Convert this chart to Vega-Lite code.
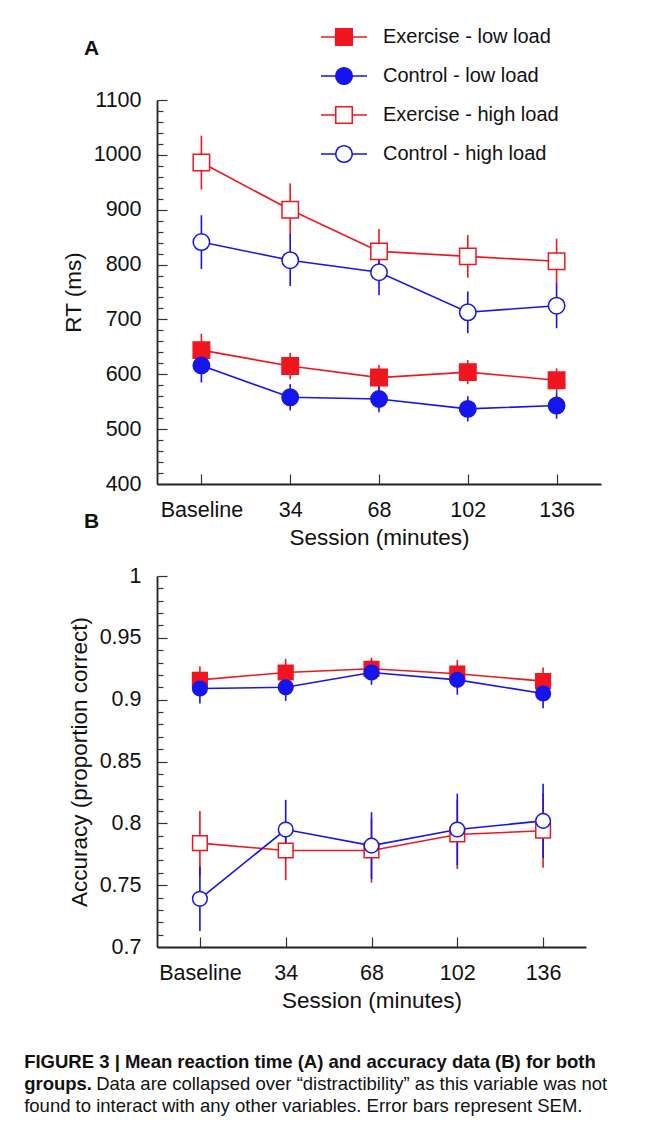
{
  "$schema": "https://vega.github.io/schema/vega-lite/v6.json",
  "background": "white",
  "padding": {"left": 24, "top": 26, "right": 30, "bottom": 12},
  "config": {
    "font": "Liberation Sans",
    "view": {"stroke": null},
    "axis": {
      "grid": false,
      "domainColor": "#222222",
      "domainWidth": 1.8,
      "tickColor": "#333333",
      "tickWidth": 1.2,
      "labelColor": "#111111",
      "titleColor": "#111111",
      "labelFont": "Liberation Sans",
      "titleFont": "Liberation Sans",
      "labelFontSize": 21.5,
      "titleFontSize": 22.5,
      "titleFontWeight": "normal"
    }
  },
  "datasets": {
    "rt": [
      {"g": "Exercise - low load", "session": "Baseline", "mean": 644, "lo": 614, "hi": 674},
      {"g": "Exercise - low load", "session": "34", "mean": 615, "lo": 591, "hi": 639},
      {"g": "Exercise - low load", "session": "68", "mean": 594, "lo": 571, "hi": 617},
      {"g": "Exercise - low load", "session": "102", "mean": 604, "lo": 582, "hi": 626},
      {"g": "Exercise - low load", "session": "136", "mean": 589, "lo": 567, "hi": 611},
      {"g": "Control - low load", "session": "Baseline", "mean": 616, "lo": 585, "hi": 647},
      {"g": "Control - low load", "session": "34", "mean": 558, "lo": 534, "hi": 582},
      {"g": "Control - low load", "session": "68", "mean": 555, "lo": 531, "hi": 579},
      {"g": "Control - low load", "session": "102", "mean": 537, "lo": 514, "hi": 560},
      {"g": "Control - low load", "session": "136", "mean": 543, "lo": 519, "hi": 567},
      {"g": "Exercise - high load", "session": "Baseline", "mean": 986, "lo": 937, "hi": 1035},
      {"g": "Exercise - high load", "session": "34", "mean": 900, "lo": 852, "hi": 948},
      {"g": "Exercise - high load", "session": "68", "mean": 824, "lo": 783, "hi": 865},
      {"g": "Exercise - high load", "session": "102", "mean": 815, "lo": 776, "hi": 854},
      {"g": "Exercise - high load", "session": "136", "mean": 806, "lo": 765, "hi": 847},
      {"g": "Control - high load", "session": "Baseline", "mean": 841, "lo": 792, "hi": 890},
      {"g": "Control - high load", "session": "34", "mean": 808, "lo": 761, "hi": 855},
      {"g": "Control - high load", "session": "68", "mean": 786, "lo": 744, "hi": 828},
      {"g": "Control - high load", "session": "102", "mean": 713, "lo": 675, "hi": 751},
      {"g": "Control - high load", "session": "136", "mean": 725, "lo": 684, "hi": 766}
    ],
    "acc": [
      {"g": "Exercise - low load", "session": "Baseline", "mean": 0.916, "lo": 0.905, "hi": 0.927},
      {"g": "Exercise - low load", "session": "34", "mean": 0.922, "lo": 0.911, "hi": 0.933},
      {"g": "Exercise - low load", "session": "68", "mean": 0.925, "lo": 0.916, "hi": 0.934},
      {"g": "Exercise - low load", "session": "102", "mean": 0.921, "lo": 0.910, "hi": 0.932},
      {"g": "Exercise - low load", "session": "136", "mean": 0.915, "lo": 0.904, "hi": 0.926},
      {"g": "Control - low load", "session": "Baseline", "mean": 0.909, "lo": 0.897, "hi": 0.921},
      {"g": "Control - low load", "session": "34", "mean": 0.910, "lo": 0.899, "hi": 0.921},
      {"g": "Control - low load", "session": "68", "mean": 0.922, "lo": 0.912, "hi": 0.932},
      {"g": "Control - low load", "session": "102", "mean": 0.916, "lo": 0.904, "hi": 0.928},
      {"g": "Control - low load", "session": "136", "mean": 0.905, "lo": 0.893, "hi": 0.917},
      {"g": "Exercise - high load", "session": "Baseline", "mean": 0.784, "lo": 0.758, "hi": 0.810},
      {"g": "Exercise - high load", "session": "34", "mean": 0.778, "lo": 0.754, "hi": 0.802},
      {"g": "Exercise - high load", "session": "68", "mean": 0.778, "lo": 0.752, "hi": 0.804},
      {"g": "Exercise - high load", "session": "102", "mean": 0.791, "lo": 0.763, "hi": 0.819},
      {"g": "Exercise - high load", "session": "136", "mean": 0.794, "lo": 0.764, "hi": 0.824},
      {"g": "Control - high load", "session": "Baseline", "mean": 0.739, "lo": 0.713, "hi": 0.765},
      {"g": "Control - high load", "session": "34", "mean": 0.795, "lo": 0.771, "hi": 0.819},
      {"g": "Control - high load", "session": "68", "mean": 0.782, "lo": 0.755, "hi": 0.809},
      {"g": "Control - high load", "session": "102", "mean": 0.795, "lo": 0.766, "hi": 0.824},
      {"g": "Control - high load", "session": "136", "mean": 0.802, "lo": 0.772, "hi": 0.832}
    ]
  },
  "bounds": "flush",
  "spacing": 92,
  "title": {
    "text": ["FIGURE 3 | Mean reaction time (A) and accuracy data (B) for both", "groups."],
    "subtitle": ["\u200b\u00a0\u00a0\u00a0\u00a0\u00a0\u00a0\u00a0\u00a0\u00a0\u00a0\u00a0\u00a0\u00a0\u00a0Data are collapsed over \u201cdistractibility\u201d as this variable was not", "found to interact with any other variables. Error bars represent SEM."],
    "orient": "bottom",
    "anchor": "start",
    "frame": "bounds",
    "baseline": "top",
    "dx": -38,
    "offset": 41,
    "font": "Liberation Sans",
    "fontSize": 18.5,
    "fontWeight": "bold",
    "lineHeight": 22,
    "color": "#111111",
    "subtitleFont": "Liberation Sans",
    "subtitleFontSize": 18.5,
    "subtitleFontWeight": "normal",
    "subtitleLineHeight": 22,
    "subtitleColor": "#111111",
    "subtitlePadding": -18.5
  },
  "vconcat": [
    {
      "width": 444,
      "height": 384,
      "title": {"text": "A", "anchor": "start", "frame": "group", "dx": -73, "offset": 13, "baseline": "alphabetic", "fontSize": 21, "fontWeight": "bold", "color": "#111111", "font": "Liberation Sans"},
      "data": {"name": "rt"},
      "resolve": {"axis": {"y": "independent"}},
      "layer": [
        {
          "mark": {"type": "rule", "strokeWidth": 1.6},
          "encoding": {
            "x": {"field": "session", "type": "nominal", "sort": ["Baseline", "34", "68", "102", "136"], "scale": {"type": "point", "padding": 0.5},
                  "axis": {"title": "Session (minutes)", "labelAngle": 0, "tickSize": -10, "labelPadding": 25.5, "titlePadding": 5}},
            "y": {"field": "lo", "type": "quantitative", "scale": {"domain": [400, 1100], "nice": false, "zero": false},
                  "axis": {"orient": "left", "title": "RT (ms)", "values": [400, 500, 600, 700, 800, 900, 1000, 1100], "format": "d", "tickSize": -10, "labelPadding": 26, "titlePadding": 8}},
            "y2": {"field": "hi"},
            "color": {"field": "g", "type": "nominal", "scale": {"domain": ["Exercise - low load", "Control - low load", "Exercise - high load", "Control - high load"], "range": ["#f0161f", "#1515ee", "#f0161f", "#1515ee"]}}
          }
        },
        {
          "mark": {"type": "line", "strokeWidth": 1.6, "opacity": 1},
          "encoding": {
            "x": {"field": "session", "type": "nominal", "sort": ["Baseline", "34", "68", "102", "136"]},
            "y": {"field": "mean", "type": "quantitative",
                  "axis": {"orient": "left", "title": null, "labels": false, "domain": false, "tickSize": -6, "values": [420,440,460,480,520,540,560,580,620,640,660,680,720,740,760,780,820,840,860,880,920,940,960,980,1020,1040,1060,1080]}},
            "color": {"field": "g", "type": "nominal",
                      "legend": {
                        "orient": "none", "legendX": 163, "legendY": -74, "title": null, "padding": 0,
                        "symbolSize": 2116, "symbolStrokeWidth": 1.6, "symbolOpacity": 1, "clipHeight": 22, "rowPadding": 17,
                        "labelFontSize": 20, "labelFont": "Liberation Sans", "labelColor": "#111111", "labelOffset": 15, "labelLimit": 0
                      }}
          }
        },
        {
          "transform": [{"filter": "false"}],
          "mark": {"type": "point", "filled": true, "opacity": 1},
          "encoding": {
            "x": {"field": "session", "type": "nominal", "sort": ["Baseline", "34", "68", "102", "136"]},
            "y": {"field": "mean", "type": "quantitative", "axis": null},
            "shape": {"field": "g", "type": "nominal", "scale": {"domain": ["Exercise - low load", "Control - low load", "Exercise - high load", "Control - high load"], "range": ["M-1,0H-0.36M0.36,0H1M-0.36,-0.36H0.36V0.36H-0.36Z", "M-1,0H-0.36M0.36,0H1M-0.36,0A0.36,0.36,0,1,1,0.36,0A0.36,0.36,0,1,1,-0.36,0Z", "M-1,0H-0.36M0.36,0H1M-0.36,-0.36H0.36V0.36H-0.36Z", "M-1,0H-0.36M0.36,0H1M-0.36,0A0.36,0.36,0,1,1,0.36,0A0.36,0.36,0,1,1,-0.36,0Z"]}}
          }
        },
        {
          "transform": [{"filter": "indexof(datum.g, 'Exercise') === 0"}],
          "mark": {"type": "point", "shape": "square", "filled": true, "size": 270, "strokeWidth": 1.5, "opacity": 1},
          "encoding": {
            "x": {"field": "session", "type": "nominal", "sort": ["Baseline", "34", "68", "102", "136"]},
            "y": {"field": "mean", "type": "quantitative", "axis": null},
            "fill": {"field": "g", "type": "nominal", "scale": {"domain": ["Exercise - low load", "Control - low load", "Exercise - high load", "Control - high load"], "range": ["#f0161f", "#1515ee", "white", "white"]}},
            "stroke": {"field": "g", "type": "nominal", "scale": {"domain": ["Exercise - low load", "Control - low load", "Exercise - high load", "Control - high load"], "range": ["#f0161f", "#1515ee", "#f0161f", "#1515ee"]}}
          }
        },
        {
          "transform": [{"filter": "indexof(datum.g, 'Control') === 0"}],
          "mark": {"type": "point", "shape": "circle", "filled": true, "size": 270, "strokeWidth": 1.5, "opacity": 1},
          "encoding": {
            "x": {"field": "session", "type": "nominal", "sort": ["Baseline", "34", "68", "102", "136"]},
            "y": {"field": "mean", "type": "quantitative", "axis": null},
            "fill": {"field": "g", "type": "nominal"},
            "stroke": {"field": "g", "type": "nominal"}
          }
        }
      ]
    },
    {
      "width": 429,
      "height": 371,
      "title": {"text": "B", "anchor": "start", "frame": "group", "dx": -73, "offset": 16, "baseline": "alphabetic", "fontSize": 21, "fontWeight": "bold", "color": "#111111", "font": "Liberation Sans"},
      "data": {"name": "acc"},
      "resolve": {"axis": {"y": "independent"}},
      "layer": [
        {
          "mark": {"type": "rule", "strokeWidth": 1.6},
          "encoding": {
            "x": {"field": "session", "type": "nominal", "sort": ["Baseline", "34", "68", "102", "136"], "scale": {"type": "point", "padding": 0.5},
                  "axis": {"title": "Session (minutes)", "labelAngle": 0, "tickSize": -10, "labelPadding": 25.5, "titlePadding": 5}},
            "y": {"field": "lo", "type": "quantitative", "scale": {"domain": [0.7, 1], "nice": false, "zero": false},
                  "axis": {"orient": "left", "title": "Accuracy (proportion correct)", "values": [0.7, 0.75, 0.8, 0.85, 0.9, 0.95, 1], "format": "~g", "tickSize": -10, "labelPadding": 26, "titlePadding": 8}},
            "y2": {"field": "hi"},
            "color": {"field": "g", "type": "nominal"}
          }
        },
        {
          "mark": {"type": "line", "strokeWidth": 1.6, "opacity": 1},
          "encoding": {
            "x": {"field": "session", "type": "nominal", "sort": ["Baseline", "34", "68", "102", "136"]},
            "y": {"field": "mean", "type": "quantitative",
                  "axis": {"orient": "left", "title": null, "labels": false, "domain": false, "tickSize": -6, "values": [0.71,0.72,0.73,0.74,0.76,0.77,0.78,0.79,0.81,0.82,0.83,0.84,0.86,0.87,0.88,0.89,0.91,0.92,0.93,0.94,0.96,0.97,0.98,0.99]}},
            "color": {"field": "g", "type": "nominal"}
          }
        },
        {
          "transform": [{"filter": "indexof(datum.g, 'Exercise') === 0"}],
          "mark": {"type": "point", "shape": "square", "filled": true, "size": 215, "strokeWidth": 1.5, "opacity": 1},
          "encoding": {
            "x": {"field": "session", "type": "nominal", "sort": ["Baseline", "34", "68", "102", "136"]},
            "y": {"field": "mean", "type": "quantitative", "axis": null},
            "fill": {"field": "g", "type": "nominal"},
            "stroke": {"field": "g", "type": "nominal"}
          }
        },
        {
          "transform": [{"filter": "indexof(datum.g, 'Control') === 0"}],
          "mark": {"type": "point", "shape": "circle", "filled": true, "size": 215, "strokeWidth": 1.5, "opacity": 1},
          "encoding": {
            "x": {"field": "session", "type": "nominal", "sort": ["Baseline", "34", "68", "102", "136"]},
            "y": {"field": "mean", "type": "quantitative", "axis": null},
            "fill": {"field": "g", "type": "nominal"},
            "stroke": {"field": "g", "type": "nominal"}
          }
        }
      ]
    }
  ]
}
